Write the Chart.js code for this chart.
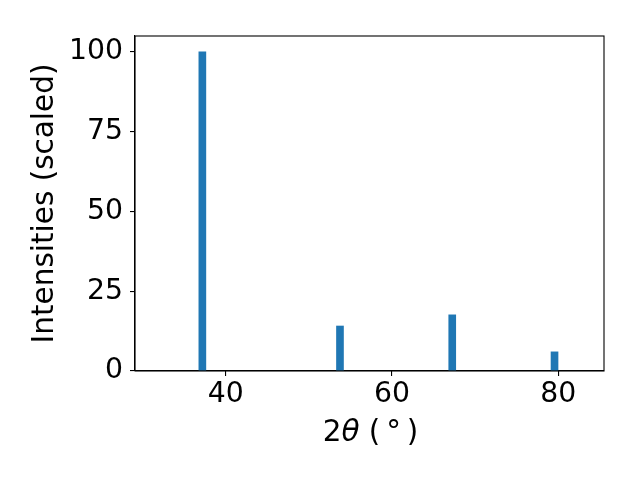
<!DOCTYPE html>
<html>
<head>
<meta charset="utf-8">
<script src="https://cdn.jsdelivr.net/npm/chart.js@4"></script>
<style>
  html, body { margin: 0; padding: 0; background: #fff; }
  #wrap { width: 640px; height: 480px; }
</style>
</head>
<body>
<div id="wrap"><canvas id="c" width="640" height="480"></canvas></div>
<script>
// Peak positions (2θ, degrees) and scaled intensities
const twoTheta = [37.2, 53.75, 67.25, 79.55];
const intensities = [100, 14.1, 17.6, 6.0];
const xTicks = [40, 60, 80];
const yTicks = [0, 25, 50, 75, 100];
// x label parts: [text, italic?]
const xLabelParts = [['2', false], ['\u03B8', true], [' (\u2009\u00B0\u2009)', false]];
const yLabel = 'Intensities (scaled)';

const FONT = 'DejaVu Sans';
const FS = 28.3;   // tick labels
const LFS = 29.5;  // axis labels

const framePlugin = {
  id: 'frame',
  afterDatasetsDraw(chart) {
    const { ctx, chartArea: a } = chart;
    ctx.save();
    ctx.strokeStyle = '#000';
    ctx.lineWidth = 1.1;
    ctx.strokeRect(a.left, a.top, a.right - a.left, a.bottom - a.top);
    ctx.restore();
  }
};

const xLabelPlugin = {
  id: 'xlabel',
  afterDraw(chart) {
    const { ctx, chartArea: a } = chart;
    ctx.save();
    ctx.fillStyle = '#000';
    ctx.textBaseline = 'alphabetic';
    ctx.textAlign = 'left';
    const fonts = xLabelParts.map(p => (p[1] ? 'oblique ' : '') + LFS + 'px "' + FONT + '"');
    let total = 0;
    const widths = xLabelParts.map((p, i) => { ctx.font = fonts[i]; const w = ctx.measureText(p[0]).width; total += w; return w; });
    let x = (a.left + a.right) / 2 - total / 2 + 1;
    const y = 441;
    xLabelParts.forEach((p, i) => { ctx.font = fonts[i]; ctx.fillText(p[0], x, y); x += widths[i]; });
    ctx.restore();
  }
};

new Chart(document.getElementById('c'), {
  type: 'bar',
  data: {
    datasets: [{
      data: twoTheta.map((x, i) => ({ x: x, y: intensities[i] })),
      backgroundColor: '#1f77b4',
      borderWidth: 0,
      barThickness: 7
    }]
  },
  options: {
    responsive: false,
    animation: false,
    layout: { padding: { left: 0, right: 36, top: 36, bottom: 0 } },
    plugins: { legend: { display: false }, tooltip: { enabled: false } },
    scales: {
      x: {
        type: 'linear',
        min: 29.1,
        max: 85.5,
        offset: false,
        afterBuildTicks: s => { s.ticks = xTicks.map(v => ({ value: v })); },
        afterFit: s => { s.height = 109; },
        grid: { offset: false, drawOnChartArea: false, drawTicks: true, tickLength: 5, color: '#000', lineWidth: 1.1 },
        border: { display: true, color: '#000', width: 1.1 },
        ticks: { color: '#000', padding: 1.5, maxRotation: 0, font: { family: FONT, size: FS } },
        title: { display: false }
      },
      y: {
        type: 'linear',
        min: 0,
        max: 105,
        afterBuildTicks: s => { s.ticks = yTicks.map(v => ({ value: v })); },
        afterFit: s => { s.width = 135; },
        grid: { offset: false, drawOnChartArea: false, drawTicks: true, tickLength: 5, color: '#000', lineWidth: 1.1 },
        border: { display: true, color: '#000', width: 1.1 },
        ticks: { color: '#000', padding: 7, font: { family: FONT, size: FS } },
        title: { display: true, text: yLabel, color: '#000', padding: { top: 28, bottom: 0 }, font: { family: FONT, size: LFS, lineHeight: 1.2 } }
      }
    }
  },
  plugins: [framePlugin, xLabelPlugin]
});
</script>
</body>
</html>
